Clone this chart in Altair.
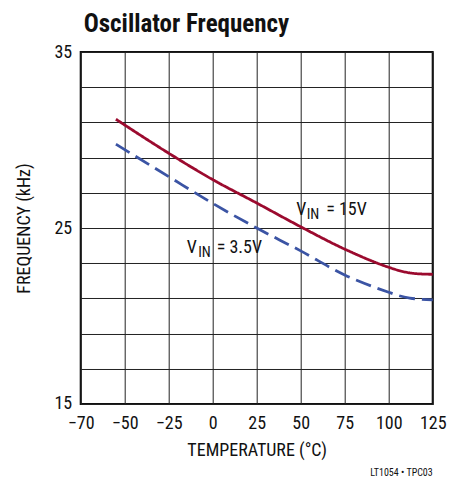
import altair as alt
import pandas as pd

# ---- data ----
temps = [-55, -25, 0, 25, 50, 75, 100, 106, 112, 118, 125]
freq_15v = [31.18, 29.25, 27.75, 26.42, 25.07, 23.80, 22.77, 22.58, 22.45, 22.39, 22.37]
freq_35v = [29.76, 27.92, 26.40, 25.00, 23.70, 22.33, 21.35, 21.15, 21.02, 20.95, 20.92]
x_ticks = [-75, -50, -25, 0, 25, 50, 75, 100, 125]
y_ticks = [15, 17, 19, 21, 23, 25, 27, 29, 31, 33, 35]

FONT = "Liberation Sans Narrow, Roboto Condensed, DejaVu Sans Condensed, sans-serif"
RED = "#9B0A2E"
BLUE = "#3B54A4"

df = pd.DataFrame({
    "t": temps * 2,
    "f": freq_15v + freq_35v,
    "s": ["15V"] * len(temps) + ["3.5V"] * len(temps),
})

xscale = alt.Scale(domain=[-75, 125], nice=False, zero=False)
yscale = alt.Scale(domain=[15, 35], nice=False, zero=False)

xaxis = alt.Axis(
    values=x_ticks, title="TEMPERATURE (°C)", grid=True, gridColor="#222", gridWidth=1,
    ticks=False, domain=False, labelFont=FONT, labelFontSize=18, labelColor="#111",
    labelPadding=11, titleFont=FONT, titleFontSize=18, titleFontWeight="normal",
    titleColor="#111", titlePadding=9, labelFlush=False,
    labelExpr="datum.value == -75 ? '\u221270' : (datum.value < 0 ? '\u2212' + abs(datum.value) : datum.label)",
)
yaxis = alt.Axis(
    values=y_ticks, title="FREQUENCY (kHz)", grid=True, gridColor="#222", gridWidth=1,
    ticks=False, domain=False, labelFont=FONT, labelFontSize=18, labelColor="#111",
    labelPadding=9, titleFont=FONT, titleFontSize=18, titleFontWeight="normal",
    titleColor="#111", titlePadding=20, labelFlush=False,
    labelExpr="datum.value % 10 == 5 ? datum.label : ''",
)

lines = alt.Chart(df).mark_line(strokeWidth=2.8, interpolate="monotone").encode(
    x=alt.X("t:Q", scale=xscale, axis=xaxis),
    y=alt.Y("f:Q", scale=yscale, axis=yaxis),
    color=alt.Color("s:N", scale=alt.Scale(domain=["15V", "3.5V"], range=[RED, BLUE]), legend=None),
    strokeDash=alt.StrokeDash("s:N", scale=alt.Scale(domain=["15V", "3.5V"], range=[[1, 0], [16, 7]]), legend=None),
)

one = pd.DataFrame({"a": [0]})

def txt(text, x, y, size=18, weight="normal", align="left"):
    return alt.Chart(one).mark_text(
        text=text, font=FONT, fontSize=size, fontWeight=weight, align=align,
        baseline="alphabetic", color="#111",
    ).encode(x=alt.value(x), y=alt.value(y))

labels = [
    txt("V", 215.5, 163), txt("IN", 226, 166.5, size=14.5), txt("= 15V", 245.5, 163),
    txt("V", 106, 201.3), txt("IN", 117.5, 204.8, size=14.5), txt("= 3.5V", 136, 201.3),
    txt("Oscillator Frequency", 3, -20.5, size=25, weight="bold"),
    txt("LT1054 \u2022 TPC03", 352, 424, size=10, align="right"),
]

chart = alt.layer(lines, *labels).properties(
    width=352, height=352,
    autosize=alt.AutoSizeParams(type="none"),
    padding={"left": 72.7, "top": 44, "right": 17, "bottom": 75},
).configure_view(stroke="#111", strokeWidth=2)

chart.save("out.html", embed_options={"renderer": "svg", "actions": False})
